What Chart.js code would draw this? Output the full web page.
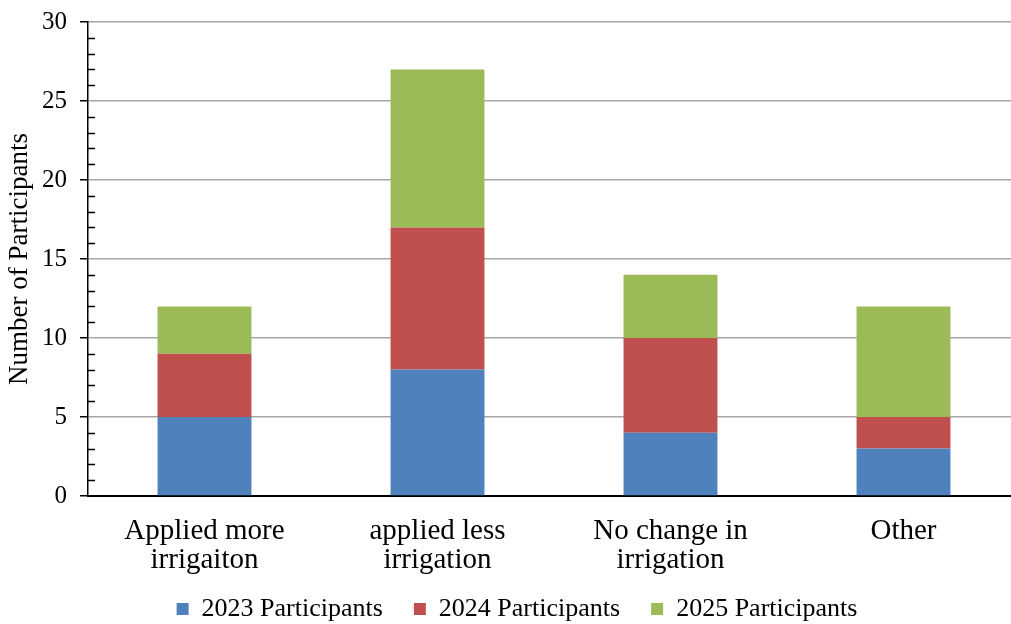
<!DOCTYPE html>
<html>
<head>
<meta charset="utf-8">
<script src="https://cdn.jsdelivr.net/npm/chart.js@4.4.1/dist/chart.umd.min.js"></script>
<style>
  html, body { margin: 0; padding: 0; background: #fff; overflow: hidden; }
  #wrap { position: relative; width: 1030px; height: 632px; }
</style>
</head>
<body>
<div id="wrap"><canvas id="chart"></canvas></div>
<script>
// categories and participant counts per year
const categories = [
  ["Applied more", "irrigaiton"],
  ["applied less", "irrigation"],
  ["No change in", "irrigation"],
  ["Other"]
];
const seriesNames = ["2023 Participants", "2024 Participants", "2025 Participants"];
const values2023 = [5, 8, 4, 3];
const values2024 = [4, 9, 6, 2];
const values2025 = [3, 10, 4, 7];
const yTicks = [0, 5, 10, 15, 20, 25, 30];

const colors = ["#4F81BD", "#C0504D", "#9BBB59"];
const serif = "'Liberation Serif', 'Times New Roman', serif";

// small inward ticks at every whole number on the y axis
const minorTicks = {
  id: "minorTicks",
  afterDraw(chart) {
    const y = chart.scales.y;
    const ctx = chart.ctx;
    const x0 = chart.chartArea.left;
    ctx.save();
    ctx.strokeStyle = "#000";
    ctx.lineWidth = 1.5;
    ctx.beginPath();
    for (let v = y.min; v <= y.max; v++) {
      if (v % 5 === 0) continue;
      const py = Math.round(y.getPixelForValue(v)) + 0.5;
      ctx.moveTo(x0, py);
      ctx.lineTo(x0 + 7, py);
    }
    ctx.stroke();
    ctx.restore();
  }
};

new Chart(document.getElementById("chart").getContext("2d"), {
  type: "bar",
  data: {
    labels: categories,
    datasets: [values2023, values2024, values2025].map((vals, i) => ({
      label: seriesNames[i],
      data: vals,
      backgroundColor: colors[i],
      borderWidth: 0,
      barPercentage: 1,
      categoryPercentage: 0.403
    }))
  },
  options: {
    responsive: true,
    maintainAspectRatio: false,
    animation: false,
    layout: { padding: { top: 22, right: 10, left: 14, bottom: 0 } },
    scales: {
      x: {
        stacked: true,
        afterFit(scale) {
          scale.height = 69;
          // let the two-line labels run past the short axis box
          scale._computeLabelArea = () => undefined;
        },
        grid: { display: false, drawTicks: false },
        border: { color: "#000", width: 2 },
        ticks: {
          color: "#000",
          font: { family: serif, size: 29, lineHeight: 1.0 },
          padding: 21,
          maxRotation: 0,
          autoSkip: false
        }
      },
      y: {
        stacked: true,
        min: 0,
        max: 30,
        afterFit(scale) {
          scale.width = 74;
          scale.paddingTop = 0;
          scale.paddingBottom = 0;
        },
        afterBuildTicks(scale) { scale.ticks = yTicks.map(v => ({ value: v })); },
        grid: { color: "#a6a6a6", lineWidth: 1.5, tickColor: "#000", tickLength: 8 },
        border: { color: "#000", width: 1.5 },
        ticks: {
          color: "#000",
          font: { family: serif, size: 25 },
          padding: 13
        },
        title: {
          display: true,
          text: "Number of Participants",
          color: "#000",
          font: { family: serif, size: 27 },
          padding: { top: -10, bottom: 0 }
        }
      }
    },
    plugins: {
      legend: {
        position: "bottom",
        labels: {
          color: "#000",
          font: { family: serif, size: 26 },
          boxWidth: 12,
          boxHeight: 12,
          padding: 31
        }
      },
      tooltip: { enabled: false }
    }
  },
  plugins: [minorTicks]
});
</script>
</body>
</html>
